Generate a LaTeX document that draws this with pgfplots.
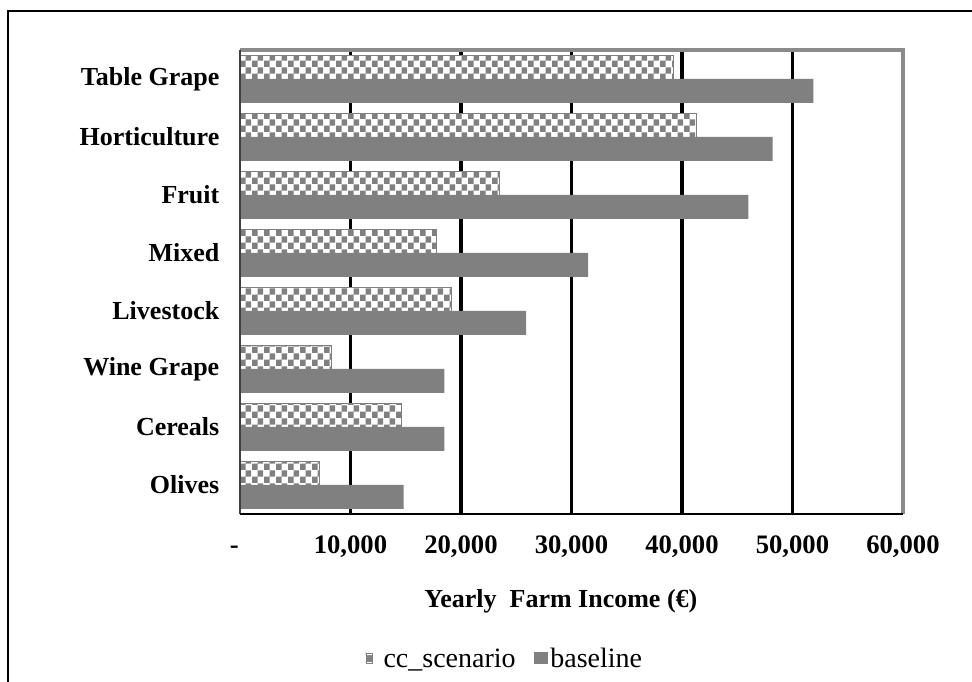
\documentclass[border=0pt]{standalone}
\usepackage{pgfplots}
\pgfplotsset{compat=1.18}
\usepackage{fontspec}
\setmainfont{Liberation Serif}
\usetikzlibrary{patterns}
\pgfdeclarepatternformonly{mycheck}{\pgfpointorigin}{\pgfqpoint{9pt}{10pt}}{\pgfqpoint{9pt}{10pt}}{%
 \pgfpathrectangle{\pgfpointorigin}{\pgfqpoint{4.5pt}{5pt}}%
 \pgfpathrectangle{\pgfqpoint{4.5pt}{5pt}}{\pgfqpoint{4.5pt}{5pt}}%
 \pgfusepath{fill}}
\definecolor{bargray}{HTML}{808080}
\definecolor{framegray}{HTML}{8A8A8A}
\begin{document}
\begin{tikzpicture}
\useasboundingbox (0,0) rectangle (729pt,511.5pt);
\draw[black, line width=1.2pt] (6pt,-10pt) -- (6pt,503.25pt) -- (740pt,503.25pt);
\begin{axis}[
 at={(180pt,126pt)}, anchor=south west,
 scale only axis, width=497.25pt, height=348pt,
 xmin=0, xmax=60000, ymin=-0.5, ymax=7.5,
 clip=false,
 xbar, bar width=0.41,
 ytick={0,...,7},
 yticklabels={Olives,Cereals,Wine Grape,Livestock,Mixed,Fruit,Horticulture,Table Grape},
 xtick={0,10000,20000,30000,40000,50000,60000},
 xticklabels={{\vphantom{0}\makebox[0pt][r]{-\hspace{1pt}}},{10,000},{20,000},{30,000},{40,000},{50,000},{60,000}},
 scaled x ticks=false,
 extra x ticks={10000,20000,30000,40000,50000},
 extra x tick labels={},
 extra x tick style={grid=major, major grid style={black, line width=2.4pt}},
 major tick length=0pt,
 axis line style={draw=none},
 xticklabel style={font=\fontsize{20}{22}\selectfont\bfseries, yshift=-13pt},
 yticklabel style={font=\fontsize{19.5}{22}\selectfont\bfseries, xshift=-12pt},
 xlabel={Yearly\ \ Farm Income (€)},
 xlabel style={at={(axis description cs:0.484,-0.1875)}, anchor=center, font=\fontsize{19.5}{22}\selectfont\bfseries},
 legend columns=2,
 legend style={at={(axis description cs:0.40,-0.3125)}, anchor=center, draw=none, fill=none,
   font=\fontsize{21}{24}\selectfont, /tikz/every even column/.append style={column sep=12pt}},
]
\addplot[draw=bargray, fill=white, postaction={pattern=mycheck, pattern color=bargray}, bar shift=0.205,
  legend image code/.code={\draw[bargray, fill=white, postaction={pattern=mycheck, pattern color=bargray}] (0pt,-3pt) rectangle (4.5pt,4.5pt); \path (11pt,0pt);}]
  coordinates {(7200,0) (14600,1) (8300,2) (19100,3) (17800,4) (23500,5) (41300,6) (39200,7)};
\addlegendentry{cc\_scenario}
\addplot[draw=none, fill=bargray, bar shift=-0.205,
  legend image code/.code={\fill[bargray] (0pt,-4pt) rectangle (10pt,5pt);}]
  coordinates {(14800,0) (18500,1) (18500,2) (25900,3) (31500,4) (46000,5) (48200,6) (51900,7)};
\addlegendentry{baseline}
\draw[framegray, line width=2.8pt] (rel axis cs:0,1) -- (rel axis cs:1,1) -- (rel axis cs:1,0);
\draw[black!75, line width=2pt] (rel axis cs:0,0) -- (rel axis cs:0,1);
\draw[black, line width=2.2pt] (rel axis cs:0,0) -- (rel axis cs:1,0);
\end{axis}
\end{tikzpicture}
\end{document}
